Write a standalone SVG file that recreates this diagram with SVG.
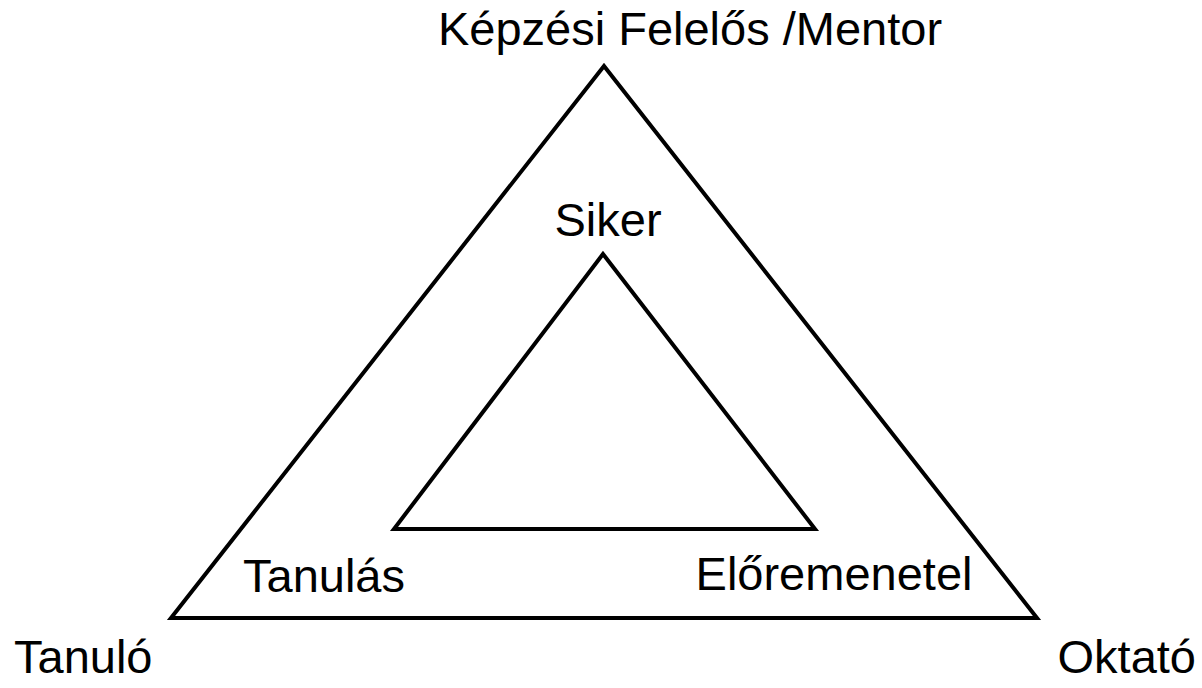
<svg xmlns="http://www.w3.org/2000/svg" width="1202" height="688" viewBox="0 0 1202 688">
<style>
.tri{fill:none;stroke:#000;stroke-width:4;stroke-linejoin:miter}
.lbl{font-family:"Liberation Sans",Arial,sans-serif;font-size:47px;fill:#000}
</style>
<rect width="1202" height="688" fill="#fff"/>
<g id="connectors">
<polygon id="outer" class="tri" points="604,66 171,618 1037,618"/>
<polygon id="inner" class="tri" points="603,254 394,529 815,529"/>
</g>
<g id="node-mentor"><text class="lbl" x="690" y="45" text-anchor="middle">Képzési Felelős /Mentor</text></g>
<g id="node-siker"><text class="lbl" x="608" y="236" text-anchor="middle">Siker</text></g>
<g id="node-tanulas"><text class="lbl" x="324" y="592" text-anchor="middle">Tanulás</text></g>
<g id="node-eloremenetel"><text class="lbl" x="834" y="590" text-anchor="middle">Előremenetel</text></g>
<g id="node-tanulo"><text class="lbl" x="14" y="673">Tanuló</text></g>
<g id="node-oktato"><text class="lbl" x="1196" y="673" text-anchor="end">Oktató</text></g>
</svg>
